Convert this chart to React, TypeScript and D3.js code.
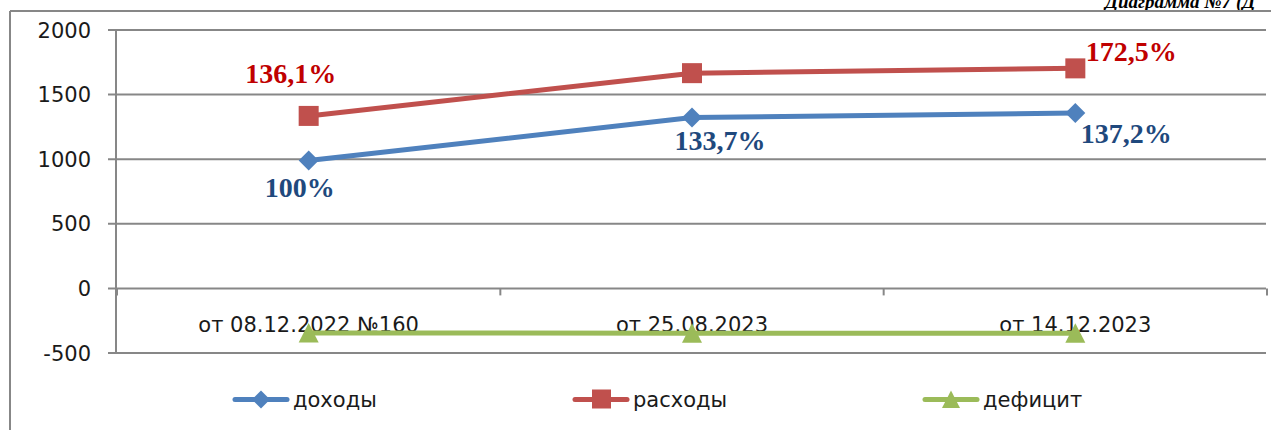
import React from "react";
import * as d3 from "d3";

const categories = ["от 08.12.2022 №160", "от 25.08.2023", "от 14.12.2023"];
const incomeValues = [990, 1322, 1358];
const expenseValues = [1335, 1666, 1703];
const deficitValues = [-345, -347, -347];
const incomeLabels = ["100%", "133,7%", "137,2%"];
const expenseLabels = ["136,1%", "", "172,5%"];
const yTicks = [-500, 0, 500, 1000, 1500, 2000];
const seriesNames = ["доходы", "расходы", "дефицит"];

const W = 1271;
const H = 430;
const GRID = "#878787";
const BLUE = "#4F81BD";
const RED = "#C0504D";
const GREEN = "#9BBB59";
const SANS = "'DejaVu Sans', sans-serif";
const SERIF = "'Liberation Serif', 'Times New Roman', serif";

export default function App() {
  const x = d3.scaleBand<string>().domain(categories).range([117, 1267]).padding(0);
  const y = d3.scaleLinear().domain([-500, 2000]).range([353, 30]);
  const cx = (c: string) => (x(c) as number) + x.bandwidth() / 2;
  const line = d3
    .line<number>()
    .x((_, i) => cx(categories[i]))
    .y((v) => y(v));

  const diamond = (px: number, py: number, r: number) =>
    `M${px},${py - r}L${px + r},${py}L${px},${py + r}L${px - r},${py}Z`;
  const triangle = (px: number, py: number, r: number) =>
    `M${px},${py - r}L${px + r},${py + r * 0.95}L${px - r},${py + r * 0.95}Z`;

  const bounds = categories.map((c) => x(c) as number).concat([x.range()[1]]);

  const legendItems = [
    { name: seriesNames[0], color: BLUE, x0: 233, kind: "diamond" },
    { name: seriesNames[1], color: RED, x0: 573, kind: "square" },
    { name: seriesNames[2], color: GREEN, x0: 923, kind: "triangle" },
  ];
  const legendY = 399.5;

  const marker = (kind: string, px: number, py: number, color: string) => {
    if (kind === "diamond") return <path d={diamond(px, py, 10)} fill={color} />;
    if (kind === "square")
      return <rect x={px - 10} y={py - 10} width={20} height={20} fill={color} />;
    return <path d={triangle(px, py, 10)} fill={color} />;
  };

  return (
    <svg
      width={W}
      height={H}
      style={{ position: "absolute", left: 0, top: 0, background: "#fff" }}
    >
      <rect x={0} y={0} width={W} height={H} fill="#fff" />
      <text
        x={1105}
        y={8}
        fontFamily={SERIF}
        fontWeight="bold"
        fontStyle="italic"
        fontSize={19}
        fill="#000"
      >
        Диаграмма №7 (Д
      </text>
      <line x1={10} y1={11} x2={W} y2={11} stroke={GRID} strokeWidth={2} />
      <line x1={10} y1={11} x2={10} y2={H} stroke={GRID} strokeWidth={2} />

      {yTicks.map((t) => (
        <g key={t}>
          <line x1={108} x2={1266} y1={y(t)} y2={y(t)} stroke={GRID} strokeWidth={2} />
          <text
            x={91}
            y={y(t)}
            dy="0.36em"
            textAnchor="end"
            fontFamily={SANS}
            fontSize={21}
            fill="#1a1a1a"
          >
            {t}
          </text>
        </g>
      ))}
      <line x1={116} x2={116} y1={y(2000)} y2={y(-500)} stroke={GRID} strokeWidth={2} />
      {bounds.map((b, i) => (
        <line key={i} x1={b} x2={b} y1={y(0)} y2={y(0) + 7} stroke={GRID} strokeWidth={2} />
      ))}

      {categories.map((c) => (
        <text
          key={c}
          x={cx(c)}
          y={332}
          textAnchor="middle"
          fontFamily={SANS}
          fontSize={21}
          fill="#1a1a1a"
        >
          {c}
        </text>
      ))}

      <path d={line(deficitValues) || ""} fill="none" stroke={GREEN} strokeWidth={5} />
      <path d={line(incomeValues) || ""} fill="none" stroke={BLUE} strokeWidth={5} />
      <path d={line(expenseValues) || ""} fill="none" stroke={RED} strokeWidth={5} />
      {deficitValues.map((v, i) => (
        <g key={"d" + i}>{marker("triangle", cx(categories[i]), y(v), GREEN)}</g>
      ))}
      {incomeValues.map((v, i) => (
        <g key={"i" + i}>{marker("diamond", cx(categories[i]), y(v), BLUE)}</g>
      ))}
      {expenseValues.map((v, i) => (
        <g key={"e" + i}>{marker("square", cx(categories[i]), y(v), RED)}</g>
      ))}

      {incomeLabels.map((l, i) => {
        const offs = [
          [-9, 37],
          [28, 32],
          [51, 30],
        ][i];
        return (
          <text
            key={"il" + i}
            x={cx(categories[i]) + offs[0]}
            y={y(incomeValues[i]) + offs[1]}
            textAnchor="middle"
            fontFamily={SERIF}
            fontWeight="bold"
            fontSize={28}
            fill="#1F497D"
          >
            {l}
          </text>
        );
      })}
      {expenseLabels.map((l, i) => {
        if (!l) return null;
        const offs = [
          [-18, -33],
          [0, 0],
          [56, -7],
        ][i];
        return (
          <text
            key={"el" + i}
            x={cx(categories[i]) + offs[0]}
            y={y(expenseValues[i]) + offs[1]}
            textAnchor="middle"
            fontFamily={SERIF}
            fontWeight="bold"
            fontSize={28}
            fill="#C00000"
          >
            {l}
          </text>
        );
      })}

      {legendItems.map((it) => (
        <g key={it.name}>
          <line
            x1={it.x0 + 2}
            x2={it.x0 + 54}
            y1={legendY}
            y2={legendY}
            stroke={it.color}
            strokeWidth={5}
            strokeLinecap="round"
          />
          {it.kind === "diamond" && (
            <path d={diamond(it.x0 + 28, legendY, 9)} fill={it.color} />
          )}
          {it.kind === "square" && (
            <rect x={it.x0 + 19} y={legendY - 10} width={19} height={19} fill={it.color} />
          )}
          {it.kind === "triangle" && (
            <path d={triangle(it.x0 + 28, legendY, 9)} fill={it.color} />
          )}
          <text
            x={it.x0 + 60}
            y={legendY + 7}
            fontFamily={SANS}
            fontSize={21}
            fill="#1a1a1a"
          >
            {it.name}
          </text>
        </g>
      ))}
    </svg>
  );
}
